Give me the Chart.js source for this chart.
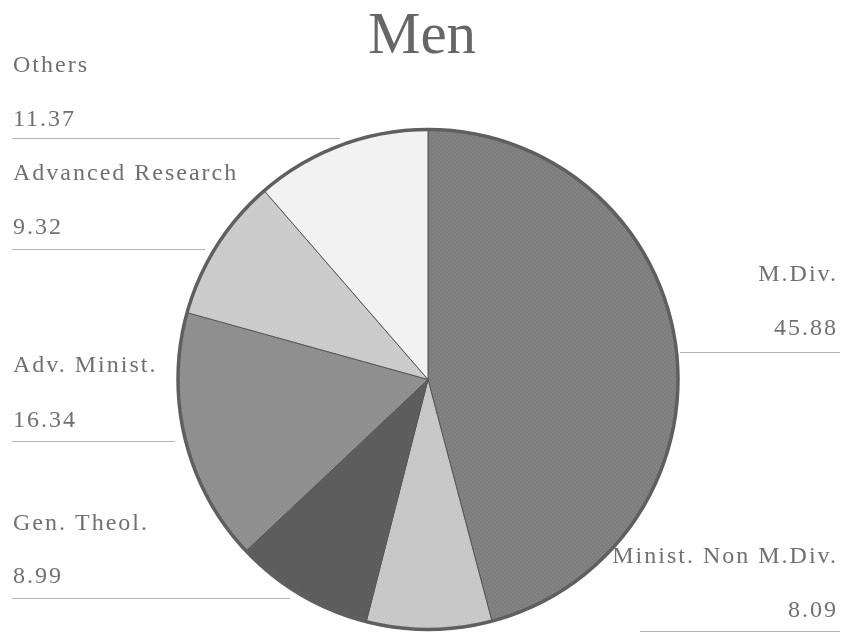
<!DOCTYPE html>
<html>
<head>
<meta charset="utf-8">
<script src="https://cdn.jsdelivr.net/npm/chart.js@4/dist/chart.umd.min.js"></script>
<style>
  html, body { margin: 0; padding: 0; background: #fff; }
  #wrap { width: 845px; height: 632px; }
</style>
</head>
<body>
<div id="wrap"><canvas id="pie"></canvas></div>
<script>
// data
const labels = ['M.Div.', 'Minist. Non M.Div.', 'Gen. Theol.', 'Adv. Minist.', 'Advanced Research', 'Others'];
const values = [45.88, 8.09, 8.99, 16.34, 9.32, 11.37];
const title = 'Men';

// slice greys (base, speckle)
const greys = [
  ['#7e7e7e', '#8e8e8e'],
  ['#c6c6c6', '#d2d2d2'],
  ['#5c5c5c', '#666666'],
  ['#8e8e8e', '#9a9a9a'],
  ['#cacaca', '#d6d6d6'],
  ['#f1f1f1', '#f8f8f8']
];

// where each label goes: [x, nameBaseline, valueBaseline, align, lineY, lineX1, lineX2]
const labelPos = [
  [838, 281, 335, 'right', 352, 680, 840],
  [838, 563, 617, 'right', 631, 640, 840],
  [13, 530, 583, 'left', 598, 12, 290],
  [13, 372, 427, 'left', 441, 12, 175],
  [13, 180, 234, 'left', 249, 12, 205],
  [13, 72, 126, 'left', 138, 12, 340]
];

function speckle(base, dot) {
  const c = document.createElement('canvas');
  c.width = 4; c.height = 4;
  const g = c.getContext('2d');
  g.fillStyle = base;
  g.fillRect(0, 0, 4, 4);
  g.fillStyle = dot;
  g.fillRect(0, 0, 1, 1);
  g.fillRect(2, 2, 1, 1);
  return g.createPattern(c, 'repeat');
}

const ctx = document.getElementById('pie').getContext('2d');

const labelPlugin = {
  id: 'sideLabels',
  beforeDatasetsDraw(chart) {
    const c = chart.ctx;
    c.save();
    // title
    c.fillStyle = '#666';
    c.font = '59px "Liberation Serif", "Times New Roman", serif';
    c.textAlign = 'center';
    c.textBaseline = 'alphabetic';
    c.fillText(title, 422, 53);
    // leader lines + text
    c.strokeStyle = '#b4b4b4';
    c.lineWidth = 1;
    c.font = '24px "Liberation Serif", "Times New Roman", serif';
    c.letterSpacing = '2px';
    c.fillStyle = '#707070';
    labels.forEach((lab, i) => {
      const p = labelPos[i];
      c.beginPath();
      c.moveTo(p[5], p[4] + 0.5);
      c.lineTo(p[6], p[4] + 0.5);
      c.stroke();
      c.textAlign = p[3];
      c.fillText(lab, p[0], p[1]);
      c.fillText(values[i].toFixed(2), p[0], p[2]);
    });
    c.restore();
  },
  afterDatasetsDraw(chart) {
    const arc = chart.getDatasetMeta(0).data[0];
    const c = chart.ctx;
    c.save();
    c.strokeStyle = '#5f5f5f';
    c.lineWidth = 3.5;
    c.beginPath();
    c.arc(arc.x, arc.y, arc.outerRadius, 0, Math.PI * 2);
    c.stroke();
    c.restore();
  }
};

new Chart(ctx, {
  type: 'pie',
  data: {
    labels: labels,
    datasets: [{
      data: values,
      backgroundColor: greys.map(g => speckle(g[0], g[1])),
      borderColor: '#555',
      borderWidth: 1
    }]
  },
  options: {
    responsive: true,
    maintainAspectRatio: false,
    animation: false,
    layout: { padding: { left: 100, right: 89, top: 129, bottom: 2 } },
    plugins: {
      legend: { display: false },
      title: { display: false },
      tooltip: { enabled: false }
    }
  },
  plugins: [labelPlugin]
});
</script>
</body>
</html>
